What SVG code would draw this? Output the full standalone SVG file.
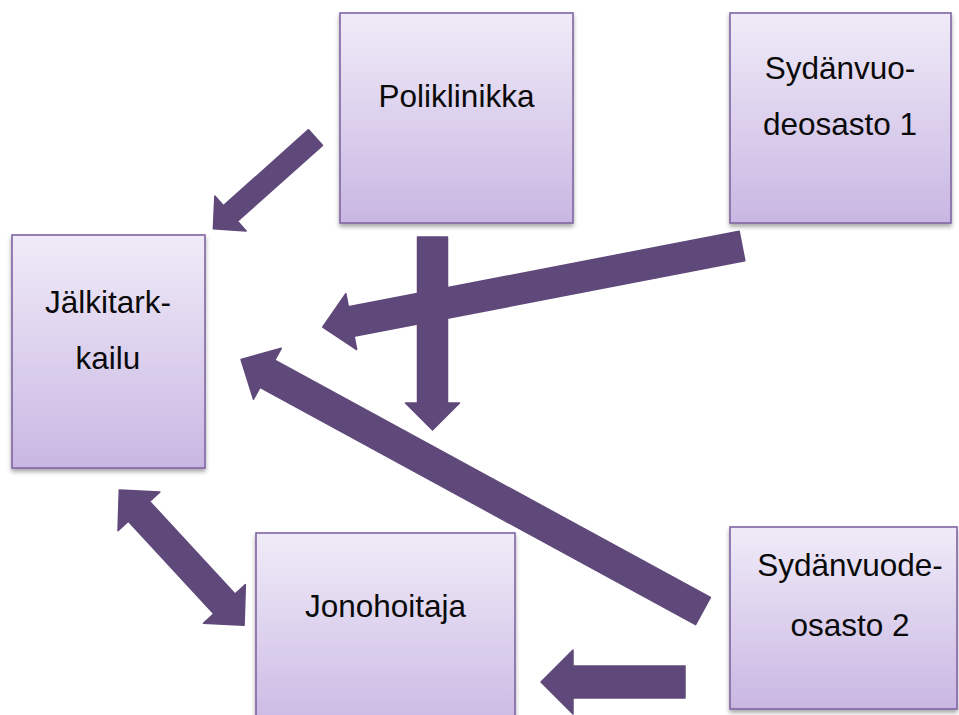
<svg xmlns="http://www.w3.org/2000/svg" width="959" height="715" viewBox="0 0 959 715">
  <defs>
    <linearGradient id="boxFill" x1="0" y1="0" x2="0" y2="1">
      <stop offset="0" stop-color="#F0EBF8"/>
      <stop offset="1" stop-color="#C9B7E3"/>
    </linearGradient>
    <filter id="boxShadow" x="-10%" y="-10%" width="120%" height="125%">
      <feDropShadow dx="0" dy="3" stdDeviation="2.2" flood-color="#000" flood-opacity="0.35"/>
    </filter>
  </defs>
  <style>
    .box { fill: url(#boxFill); stroke: #8064A2; stroke-width: 1.6; filter: url(#boxShadow); }
    .label { font-family: "Liberation Sans", Arial, sans-serif; font-size: 31.5px; fill: #0A0A0A; text-anchor: middle; }
    .arrow { fill: #5F497A; stroke: #5F497A; stroke-width: 1.5; stroke-linejoin: round; }
  </style>

  <rect width="959" height="715" fill="#FFFFFF"/>

  <g id="jalkitarkkailu">
    <rect class="box" x="12" y="235" width="193" height="233"/>
    <text class="label" x="108" y="313">Jälkitark-</text>
    <text class="label" x="108" y="369">kailu</text>
  </g>

  <g id="poliklinikka">
    <rect class="box" x="340" y="13" width="233" height="210"/>
    <text class="label" x="456.5" y="107">Poliklinikka</text>
  </g>

  <g id="sydanvuodeosasto1">
    <rect class="box" x="730" y="13" width="221" height="210"/>
    <text class="label" x="840" y="79">Sydänvuo-</text>
    <text class="label" x="840" y="135">deosasto 1</text>
  </g>

  <g id="jonohoitaja">
    <rect class="box" x="256" y="533" width="259" height="205"/>
    <text class="label" x="385.5" y="617">Jonohoitaja</text>
  </g>

  <g id="sydanvuodeosasto2">
    <rect class="box" x="730" y="527" width="227" height="182"/>
    <text class="label" x="850" y="576">Sydänvuode-</text>
    <text class="label" x="850" y="636">osasto 2</text>
  </g>

  <g id="connectors">
    <!-- Poliklinikka to Jälkitarkkailu -->
    <path class="arrow" transform="translate(315.5,137.5) rotate(138.2)" d="M0,-10.5 L114,-10.5 L114,-23.5 L137,0 L114,23.5 L114,10.5 L0,10.5 Z"/>
    <!-- Sydänvuodeosasto 1 to Jälkitarkkailu -->
    <path class="arrow" transform="translate(742,246) rotate(169.06)" d="M0,-15 L398,-15 L398,-28.5 L427,0 L398,28.5 L398,15 L0,15 Z"/>
    <!-- Poliklinikka downwards -->
    <path class="arrow" transform="translate(432.5,237) rotate(90)" d="M0,-15 L166,-15 L166,-27 L193,0 L166,27 L166,15 L0,15 Z"/>
    <!-- Sydänvuodeosasto 2 to Jälkitarkkailu -->
    <path class="arrow" transform="translate(703,611) rotate(208.57)" d="M0,-15.5 L496,-15.5 L496,-29 L526,0 L496,29 L496,15.5 L0,15.5 Z"/>
    <!-- Jälkitarkkailu and Jonohoitaja, both ways -->
    <path class="arrow" transform="translate(119.3,490) rotate(47.3)" d="M29,-14.5 L155,-14.5 L155,-28.5 L184,0 L155,28.5 L155,14.5 L29,14.5 L29,28.5 L0,0 L29,-28.5 Z"/>
    <!-- Sydänvuodeosasto 2 to Jonohoitaja -->
    <path class="arrow" transform="translate(685,682) rotate(180)" d="M0,-16 L112,-16 L112,-32 L144,0 L112,32 L112,16 L0,16 Z"/>
  </g>
</svg>
